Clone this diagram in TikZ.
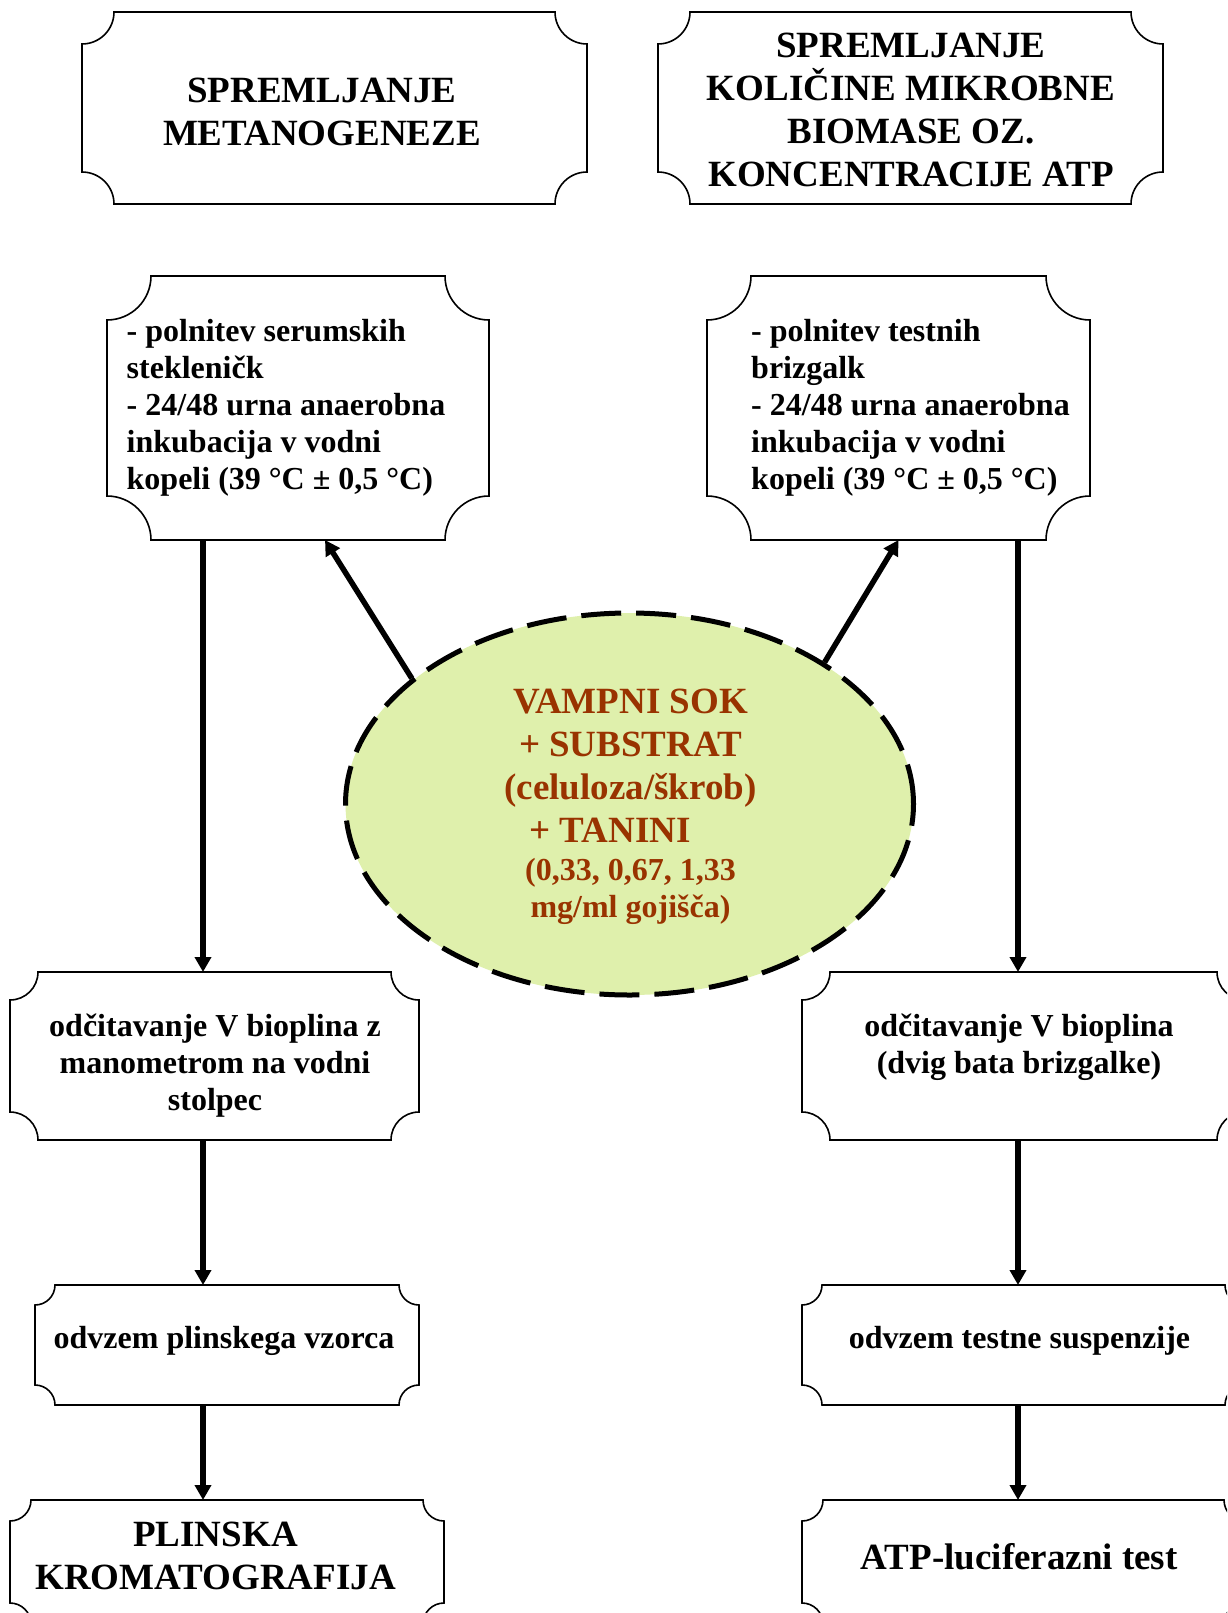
\documentclass[tikz,border=0pt]{standalone}
\usepackage{fontspec}
\setmainfont{Liberation Serif}
\usetikzlibrary{arrows.meta,shapes.geometric}
\definecolor{brownt}{RGB}{153,51,0}
\definecolor{ellfill}{RGB}{223,240,172}
\newcommand{\plaque}[2]{%
  \draw[plaqueline] ([xshift=#2pt]#1.north west) -- ([xshift=-#2pt]#1.north east)
    arc[start angle=180,end angle=270,radius=#2pt]
    -- ([yshift=#2pt]#1.south east)
    arc[start angle=90,end angle=180,radius=#2pt]
    -- ([xshift=#2pt]#1.south west)
    arc[start angle=0,end angle=90,radius=#2pt]
    -- ([yshift=-#2pt]#1.north west)
    arc[start angle=270,end angle=360,radius=#2pt] -- cycle;}
\tikzset{
  plaqueline/.style={draw=black, line width=1.6pt},
  boxshape/.style={rectangle, inner sep=0pt, outer sep=0pt, draw=none},
  bigtxt/.style={font=\bfseries\fontsize{37}{43}\selectfont, align=center, inner sep=0pt},
  smalltxt/.style={font=\bfseries\fontsize{32}{37}\selectfont, align=center, inner sep=0pt},
  arr/.style={-{Triangle[width=16pt,length=15pt]}, line width=5.5pt},
}
\begin{document}
\begin{tikzpicture}[x=1pt,y=1pt]
\path[use as bounding box, fill=white] (0,0) rectangle (1227,-1613);
\clip (0,0) rectangle (1227,-1613);

% boxes
\node[boxshape, minimum width=505pt, minimum height=192pt] (TL) at (334.5,-108) {};
\node[boxshape, minimum width=505pt, minimum height=192pt] (TR) at (910.5,-108) {};
\node[boxshape, minimum width=382pt, minimum height=264pt] (ML) at (298,-408) {};
\node[boxshape, minimum width=383pt, minimum height=264pt] (MR) at (898.5,-408) {};
\node[boxshape, minimum width=409pt, minimum height=168pt] (L3) at (214.5,-1056) {};
\node[boxshape, minimum width=443pt, minimum height=168pt] (R3) at (1023.5,-1056) {};
\node[boxshape, minimum width=384pt, minimum height=120pt] (L4) at (227,-1345) {};
\node[boxshape, minimum width=443pt, minimum height=120pt] (R4) at (1023.5,-1345) {};
\node[boxshape, minimum width=434pt, minimum height=124pt] (L5) at (227,-1562) {};
\node[boxshape, minimum width=443pt, minimum height=124pt] (R5) at (1023.5,-1562) {};

\plaque{TL}{32}
\plaque{TR}{32}
\plaque{ML}{44}
\plaque{MR}{44}
\plaque{L3}{28}
\plaque{R3}{28}
\plaque{L4}{20}
\plaque{R4}{20}
\plaque{L5}{21}
\plaque{R5}{21}

% ellipse
\node[ellipse, draw=black, dash pattern=on 40pt off 15pt, line width=5pt,
      fill=ellfill, minimum width=568pt, minimum height=382pt, inner sep=0pt]
      (ell) at (629.5,-804) {};

% texts
\node[bigtxt] (tTL) at (322,-112) {SPREMLJANJE\\METANOGENEZE};
\node[bigtxt] (tTR) at (911,-110) {SPREMLJANJE\\KOLIČINE MIKROBNE\\BIOMASE OZ.\\KONCENTRACIJE ATP};
\node[smalltxt, align=left, anchor=west] (tML) at (126.5,-407.6)
  {- polnitev serumskih\\stekleničk\\- 24/48 urna anaerobna\\inkubacija v vodni\\kopeli (39 °C ± 0,5 °C)};
\node[smalltxt, align=left, anchor=west] (tMR) at (751,-407.6)
  {- polnitev testnih\\brizgalk\\- 24/48 urna anaerobna\\inkubacija v vodni\\kopeli (39 °C ± 0,5 °C)};
\node[bigtxt, text=brownt] (e1) at (630.5,-765.5)
  {VAMPNI SOK\\+ SUBSTRAT\\(celuloza/škrob)\\+ TANINI\hphantom{nn}};
\node[smalltxt, text=brownt] (e2) at (630.5,-891) {(0,33, 0,67, 1,33\\mg/ml gojišča)};
\node[smalltxt] (tL3) at (215,-1066) {odčitavanje V bioplina z\\manometrom na vodni\\stolpec};
\node[smalltxt] (tR3) at (1019,-1047.5) {odčitavanje V bioplina\\(dvig bata brizgalke)};
\node[smalltxt] (tL4) at (224,-1341) {odvzem plinskega vzorca};
\node[smalltxt] (tR4) at (1019.5,-1341) {odvzem testne suspenzije};
\node[bigtxt] (tL5) at (215.5,-1555.5) {PLINSKA\\KROMATOGRAFIJA};
\node[bigtxt] (tR5) at (1019.3,-1557) {ATP-luciferazni test};

% connectors
\coordinate (lx) at (203,0);
\coordinate (rx) at (1018,0);
\draw[arr] (ML.south -| lx) -- (L3.north -| lx);
\draw[arr] (L3.south -| lx) -- (L4.north -| lx);
\draw[arr] (L4.south -| lx) -- (L5.north -| lx);
\draw[arr] (MR.south -| rx) -- (R3.north -| rx);
\draw[arr] (R3.south -| rx) -- (R4.north -| rx);
\draw[arr] (R4.south -| rx) -- (R5.north -| rx);
\draw[arr] (ell.150) -- ([xshift=27pt]ML.south);
\draw[arr] (ell.36) -- (MR.south);
\end{tikzpicture}
\end{document}
